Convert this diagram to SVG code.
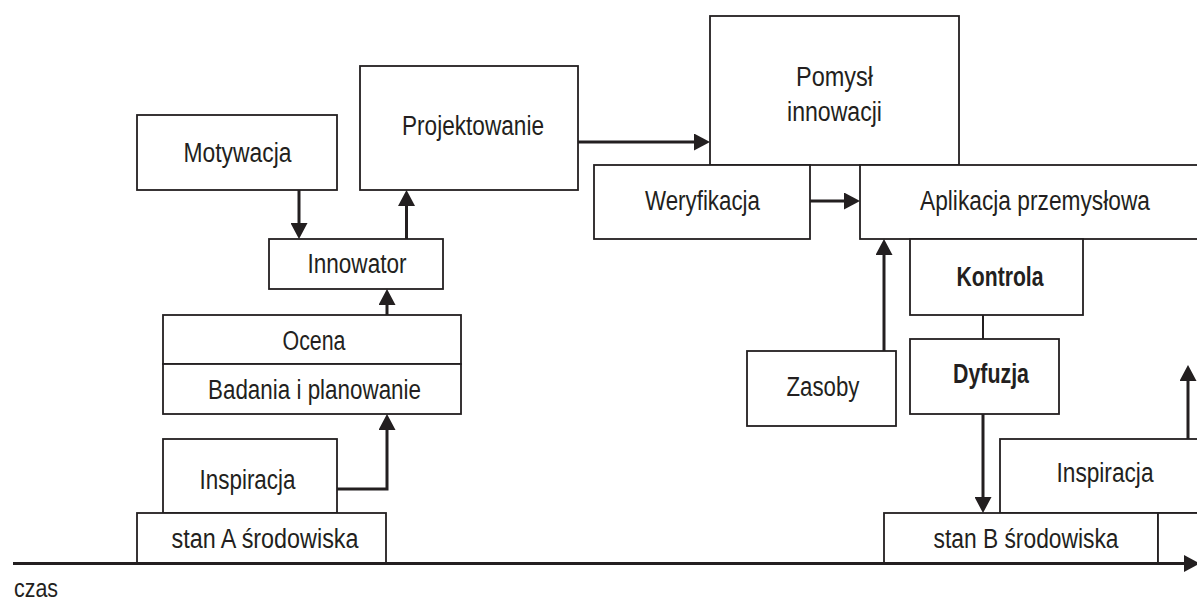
<svg xmlns="http://www.w3.org/2000/svg" width="1197" height="603" viewBox="0 0 1197 603">
<defs>
<style>
.box{fill:#fff;stroke:#231f20;stroke-width:1.8}
.t{font-family:"Liberation Sans",Arial,sans-serif;font-size:27px;fill:#231f20;text-anchor:middle}
.b{font-weight:bold}
.c{fill:none;stroke:#231f20;stroke-width:3}
.c2{fill:none;stroke:#231f20;stroke-width:2}
</style>
<marker id="ah" viewBox="0 0 16 17" refX="10" refY="8.5" markerWidth="16" markerHeight="17" markerUnits="userSpaceOnUse" orient="auto">
<path d="M0,0 L16,8.5 L0,17 z" fill="#231f20"/>
</marker>
</defs>
<rect width="1197" height="603" fill="#fff"/>
<g id="motywacja"><rect class="box" x="137" y="115" width="200" height="75"/><text class="t" x="237.5" y="162" textLength="108" lengthAdjust="spacingAndGlyphs">Motywacja</text></g>
<g id="projektowanie"><rect class="box" x="360" y="66" width="218" height="124"/><text class="t" x="473" y="135" textLength="142" lengthAdjust="spacingAndGlyphs">Projektowanie</text></g>
<g id="innowator"><rect class="box" x="269" y="239" width="174" height="50"/><text class="t" x="357" y="273" textLength="99" lengthAdjust="spacingAndGlyphs">Innowator</text></g>
<g id="ocena"><rect class="box" x="163" y="315" width="298" height="49"/><text class="t" x="314" y="350" textLength="63" lengthAdjust="spacingAndGlyphs">Ocena</text></g>
<g id="badania"><rect class="box" x="163" y="364" width="298" height="50"/><text class="t" x="314.5" y="399" textLength="213" lengthAdjust="spacingAndGlyphs">Badania i planowanie</text></g>
<g id="inspiracja-a"><rect class="box" x="163" y="439" width="174" height="74"/><text class="t" x="247.5" y="489" textLength="96" lengthAdjust="spacingAndGlyphs">Inspiracja</text></g>
<g id="stan-a"><rect class="box" x="137" y="513" width="249" height="50"/><text class="t" x="265" y="548" textLength="187" lengthAdjust="spacingAndGlyphs">stan A środowiska</text></g>
<g id="pomysl"><rect class="box" x="710" y="16" width="249" height="149"/><text class="t" x="834.5" y="86" textLength="77" lengthAdjust="spacingAndGlyphs">Pomysł</text><text class="t" x="834.5" y="121" textLength="95" lengthAdjust="spacingAndGlyphs">innowacji</text></g>
<g id="weryfikacja"><rect class="box" x="594" y="165" width="216" height="74"/><text class="t" x="702.5" y="210" textLength="115" lengthAdjust="spacingAndGlyphs">Weryfikacja</text></g>
<g id="aplikacja"><rect class="box" x="860" y="165" width="345" height="74"/><text class="t" x="1035" y="210" textLength="230" lengthAdjust="spacingAndGlyphs">Aplikacja przemysłowa</text></g>
<g id="kontrola"><rect class="box" x="910" y="239" width="173" height="76"/><text class="t b" x="1000" y="286" textLength="87" lengthAdjust="spacingAndGlyphs">Kontrola</text></g>
<g id="dyfuzja"><rect class="box" x="910" y="339" width="149" height="75"/><text class="t b" x="991" y="383" textLength="76" lengthAdjust="spacingAndGlyphs">Dyfuzja</text></g>
<g id="zasoby"><rect class="box" x="747" y="351" width="149" height="75"/><text class="t" x="823" y="396" textLength="73" lengthAdjust="spacingAndGlyphs">Zasoby</text></g>
<g id="inspiracja-b"><rect class="box" x="1000" y="439" width="205" height="74"/><text class="t" x="1105" y="482" textLength="97" lengthAdjust="spacingAndGlyphs">Inspiracja</text></g>
<g id="stan-b"><rect class="box" x="884" y="513" width="274" height="50"/><text class="t" x="1026" y="548" textLength="185" lengthAdjust="spacingAndGlyphs">stan B środowiska</text></g>
<g id="stan-next"><rect class="box" x="1158" y="513" width="50" height="50"/></g>
<g id="czas"><text class="t" style="text-anchor:start;font-size:26px" x="14" y="597" textLength="44" lengthAdjust="spacingAndGlyphs">czas</text></g>
<g id="connectors">
<line class="c" x1="13" y1="563.5" x2="1194" y2="563.5" marker-end="url(#ah)"/>
<line class="c" x1="299" y1="190" x2="299" y2="233" marker-end="url(#ah)"/>
<line class="c" x1="406.5" y1="239" x2="406.5" y2="196" marker-end="url(#ah)"/>
<line class="c" x1="387" y1="315" x2="387" y2="295" marker-end="url(#ah)"/>
<polyline class="c" points="337,489 387,489 387,420" marker-end="url(#ah)"/>
<line class="c" x1="578" y1="142" x2="704" y2="142" marker-end="url(#ah)"/>
<line class="c" x1="810" y1="201" x2="854" y2="201" marker-end="url(#ah)"/>
<line class="c" x1="884" y1="351" x2="884" y2="245" marker-end="url(#ah)"/>
<line class="c2" x1="983" y1="315" x2="983" y2="339"/>
<line class="c" x1="983" y1="414" x2="983" y2="507" marker-end="url(#ah)"/>
<line class="c" x1="1188" y1="439" x2="1188" y2="371" marker-end="url(#ah)"/>
</g>
</svg>
